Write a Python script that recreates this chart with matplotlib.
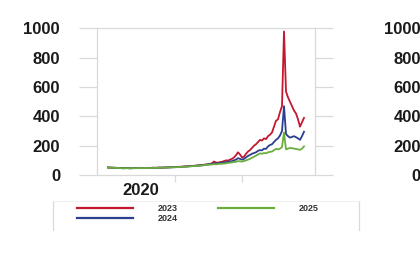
import matplotlib
matplotlib.use("Agg")
import matplotlib.pyplot as plt
from matplotlib.lines import Line2D
import numpy as np

plt.rcParams['font.family'] = ['Liberation Sans', 'DejaVu Sans']

W, H = 420, 267

# series values, one per sample
red_2023 = [52, 51, 50, 50, 49, 48, 48, 47, 47, 48,
            47, 46, 47, 48, 47, 48, 49, 48, 47, 48,
            49, 48, 49, 50, 49, 50, 51, 50, 51, 52,
            52, 53, 54, 54, 55, 56, 56, 57, 58, 59,
            60, 61, 62, 63, 64, 66, 67, 68, 70, 72,
            74, 76, 80, 92, 85, 84, 88, 90, 95, 100,
            98, 105, 110, 120, 135, 155, 140, 120, 125, 145,
            160, 170, 185, 200, 210, 225, 240, 235, 250, 245,
            265, 275, 290, 330, 370, 380, 430, 470, 980, 570,
            530, 500, 470, 440, 420, 380, 330, 360, 390]
blue_2024 = [51, 50, 50, 49, 49, 48, 47, 47, 46, 47,
             47, 46, 46, 47, 47, 48, 48, 47, 47, 48,
             48, 48, 49, 49, 49, 50, 50, 50, 51, 51,
             52, 52, 53, 53, 54, 55, 55, 56, 57, 58,
             59, 60, 61, 62, 63, 64, 65, 66, 68, 70,
             72, 74, 76, 80, 78, 80, 82, 84, 86, 88,
             90, 92, 95, 100, 105, 115, 110, 105, 110, 120,
             130, 137, 145, 150, 155, 165, 170, 168, 180, 178,
             195, 205, 210, 225, 240, 250, 270, 300, 470, 280,
             265, 255, 260, 265, 258, 250, 240, 265, 295]
green_2025 = [50, 50, 49, 49, 48, 48, 47, 46, 46, 47,
              46, 46, 47, 47, 46, 47, 48, 47, 47, 48,
              48, 47, 48, 49, 48, 49, 50, 50, 50, 51,
              51, 52, 52, 53, 53, 54, 55, 55, 56, 57,
              58, 59, 60, 61, 62, 63, 64, 65, 67, 69,
              70, 71, 72, 74, 73, 75, 76, 77, 78, 80,
              82, 84, 86, 88, 90, 95, 93, 92, 95, 100,
              105, 110, 118, 125, 132, 140, 148, 145, 150, 148,
              155, 158, 160, 170, 178, 175, 180, 190, 290, 175,
              180, 185, 183, 180, 178, 175, 172, 180, 195]
labels = ['2023', '2024', '2025']
colors = ['#c3182f', '#2b3f8e', '#6aae3e']
yticks = [0, 200, 400, 600, 800, 1000]
xlabel_text = '2020'

grid_c = '#d9d9d9'
px = 72 / 100  # points per pixel at dpi 100

fig = plt.figure(figsize=(W / 100, H / 100), dpi=100)
ax = fig.add_axes([97 / W, (H - 175) / H, (315 - 97) / W, (175 - 28.5) / H])

x = np.arange(len(red_2023))
for vals, c, lab in zip([red_2023, blue_2024, green_2025], colors, labels):
    ax.plot(x, vals, color=c, lw=1.3, label=lab)

ax.set_xlim(-5.5, 103.5)
ax.set_ylim(0, 1000)
ax.set_yticks(yticks)
ax.set_yticklabels([str(v) for v in yticks], fontsize=12, fontweight='bold', color='#1a1a1a')
ax.tick_params(axis='y', which='major', length=18 * px, width=0.9, color=grid_c,
               pad=19 * px, left=True, right=True)
ax.set_xticks([33.5, 67])
ax.set_xticklabels(['', ''])
ax.set_xticks([16.5], minor=True)
ax.set_xticklabels([xlabel_text], minor=True, fontsize=12, fontweight='bold', color='#1a1a1a')
ax.tick_params(axis='x', which='major', length=7 * px, width=0.9, color=grid_c)
ax.tick_params(axis='x', which='minor', length=0, pad=8 * px)
for s in ax.spines.values():
    s.set_color(grid_c)
    s.set_linewidth(0.9)

# second panel, only its tick labels show at the right edge
ax2 = fig.add_axes([458 / W, (H - 175) / H, 0.5, (175 - 28.5) / H])
ax2.set_ylim(0, 1000)
ax2.set_yticks(yticks)
ax2.set_yticklabels([str(v) for v in yticks], fontsize=12, fontweight='bold', color='#1a1a1a')
ax2.tick_params(axis='y', length=18 * px, pad=19 * px, color='white')
ax2.set_xticks([])
for s in ax2.spines.values():
    s.set_visible(False)

# legend
leg = fig.legend(loc='upper left', bbox_to_anchor=(77 / W, 1 - 204 / H), ncol=2,
                 frameon=False, borderpad=0, borderaxespad=0,
                 handlelength=6.2, handletextpad=2.8, columnspacing=4.4,
                 labelspacing=0.15, prop={'size': 6.5, 'weight': 'bold'})
for t in leg.get_texts():
    t.set_color('#333333')
for h in leg.legend_handles:
    h.set_linewidth(1.6)

fig.add_artist(Line2D([53 / W, 53 / W], [1 - 201 / H, 1 - 230 / H], color=grid_c, lw=0.9))
fig.add_artist(Line2D([359 / W, 359 / W], [1 - 201 / H, 1 - 230 / H], color=grid_c, lw=0.9))
fig.add_artist(Line2D([53 / W, 359 / W], [1 - 201 / H, 1 - 201 / H], color='#f0f0f0', lw=0.8))

fig.savefig('out.png', dpi=100)
